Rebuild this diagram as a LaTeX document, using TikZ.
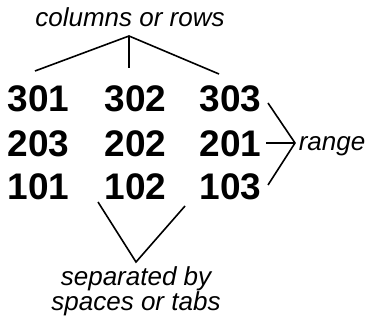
\documentclass[tikz,border=0pt]{standalone}
\usepackage{fontspec}
\setmainfont{Liberation Sans}

\tikzstyle{num} = [inner sep=0pt, anchor=base west, font=\fontsize{37}{37}\selectfont\bfseries]
\tikzstyle{lbl} = [inner sep=0pt, font=\fontsize{26}{25}\selectfont\itshape]
\tikzstyle{every path}=[line width=1.6pt]

\begin{document}
\begin{tikzpicture}[x=1pt,y=-1pt]
	\useasboundingbox (0,0) rectangle (367,323);
	% numbers
	\node[num] (n301) at (7,112) {301};
	\node[num] (n302) at (104,112) {302};
	\node[num] (n303) at (199,112) {303};
	\node[num] (n203) at (7,157) {203};
	\node[num] (n202) at (104,157) {202};
	\node[num] (n201) at (199,157) {201};
	\node[num] (n101) at (7,200) {101};
	\node[num] (n102) at (104,200) {102};
	\node[num] (n103) at (199,200) {103};
	% labels
	\node[lbl, anchor=base] (cols) at (130,27) {columns or rows};
	\node[lbl, anchor=base west] (range) at (298,151) {range};
	\node[lbl, anchor=north, align=center] (sep) at (136,266) {separated by\\spaces or tabs};
	% columns or rows
	\coordinate (top) at (129,36);
	\coordinate (c1) at (35,71);
	\coordinate (c2) at (129,68);
	\coordinate (c3) at (219,74);
	\draw (c1) -- (top) -- (c3);
	\draw (top) -- (c2);
	% range
	\coordinate (rtip) at (295,143);
	\coordinate (r1) at (268,103);
	\coordinate (r2) at (266,143);
	\coordinate (r3) at (268,185);
	\draw (r1) -- (rtip) -- (r3);
	\draw (r2) -- (rtip);
	% separated
	\coordinate (bot) at (136,262);
	\coordinate (s1) at (98,202);
	\coordinate (s2) at (185,206);
	\draw (s1) -- (bot) -- (s2);
\end{tikzpicture}
\end{document}
